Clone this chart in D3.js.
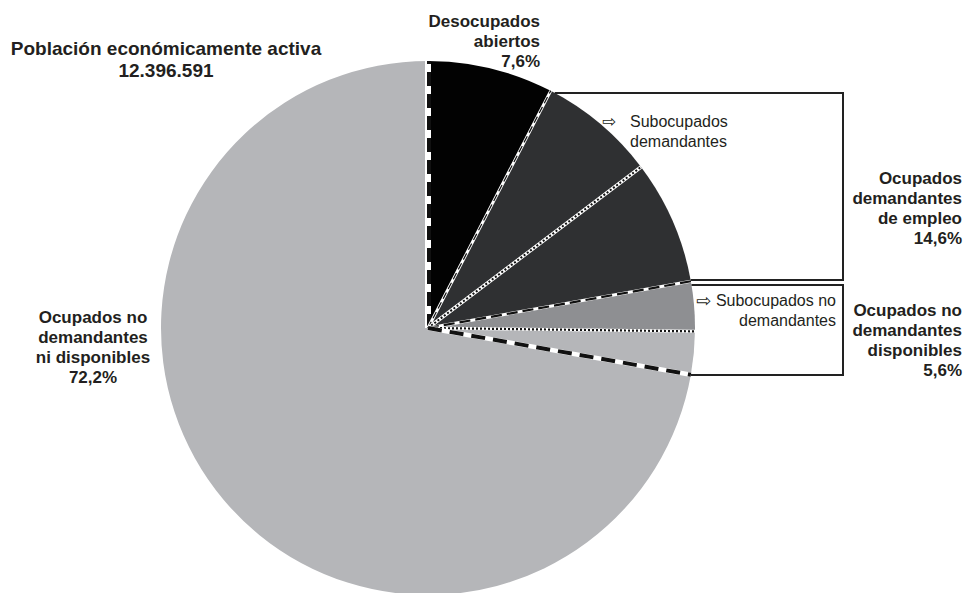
<!DOCTYPE html>
<html><head><meta charset="utf-8">
<script src="https://cdn.jsdelivr.net/npm/d3@7"></script>
<style>html,body{margin:0;padding:0;background:#fff;}svg{display:block;}</style>
</head><body>
<script>
// ---- data ----
const categories = ["Desocupados abiertos","Subocupados demandantes","Ocupados demandantes (resto)","Subocupados no demandantes","Ocupados no demandantes disponibles (resto)","Ocupados no demandantes ni disponibles"];
const values = [7.6, 7.1, 7.5, 3.0, 2.6, 72.2];
const titleLines = ["Población económicamente activa","12.396.591"];
const groupLabels = [
  ["Desocupados","abiertos","7,6%"],
  ["Ocupados","demandantes","de empleo","14,6%"],
  ["Ocupados no","demandantes","disponibles","5,6%"],
  ["Ocupados no","demandantes","ni disponibles","72,2%"]
];
const subLabels = [["Subocupados","demandantes"],["Subocupados no","demandantes"]];

// ---- styles ----
const fills = ["#020202","#2f3032","#2f3032","#8e8f92","#b5b6b9","#b5b6b9"];
const boundaryStyles = [ // at start angle of each slice
  {w:6, dw:4, dash:"14,8", off:-1},
  {w:3, dw:1.2, dash:"7,4", off:0},
  {w:3.5, dw:2, dash:"2,2", off:0},
  {w:3, dw:2.2, dash:"11,5", off:0},
  {w:3, dw:2.2, dash:"2,2", off:0},
  {w:4.5, dw:4, dash:"14,8", off:0}
];
const W = 965, H = 593, cx = 428, cy = 328, R = 267;
const font = "'Liberation Sans', Arial, Helvetica, sans-serif";
const ink = "#231f20";

const svg = d3.select("body").append("svg").attr("width", W).attr("height", H);
const g = svg.append("g").attr("transform", `translate(${cx},${cy})`);

const pie = d3.pie().sort(null).value(d => d)(values);
const arc = d3.arc().innerRadius(0).outerRadius(R);
g.selectAll("path.slice").data(pie).join("path")
  .attr("class","slice").attr("d", arc).attr("fill",(d,i)=>fills[i]);

// boundary lines
const pt = (a, r) => [r*Math.sin(a), -r*Math.cos(a)];
pie.forEach((d,i) => {
  const s = boundaryStyles[i];
  const [x,y] = pt(d.startAngle, R);
  g.append("line").attr("x1",0).attr("y1",0).attr("x2",x).attr("y2",y)
    .attr("stroke","#fff").attr("stroke-width",s.w);
  const nx = -Math.cos(d.startAngle)*s.off, ny = -Math.sin(d.startAngle)*s.off;
  g.append("line").attr("x1",nx).attr("y1",ny).attr("x2",x+nx).attr("y2",y+ny)
    .attr("stroke","#111").attr("stroke-width",s.dw).attr("stroke-dasharray",s.dash);
});

// boxes (group brackets), anchored to pie edge
const edgeX = y => cx + Math.sqrt(R*R - (y-cy)*(y-cy));
const boxes = [{top:93,bottom:280,right:843},{top:285,bottom:375,right:843}];
boxes.forEach(b => {
  svg.append("path")
    .attr("d", `M${edgeX(b.top)},${b.top}H${b.right}V${b.bottom}H${edgeX(b.bottom)}`)
    .attr("fill","none").attr("stroke","#222").attr("stroke-width",2);
});

function multiline(lines, x, y0, dy, anchor, size, weight){
  const t = svg.append("text").attr("font-family",font).attr("font-size",size)
    .attr("font-weight",weight).attr("fill",ink).attr("text-anchor",anchor);
  lines.forEach((l,i)=> t.append("tspan").attr("x",x).attr("y",y0+i*dy).text(l));
  return t;
}
multiline(titleLines, 166, 55, 22, "middle", 19, "bold");
multiline(groupLabels[0], 540, 27, 20, "end", 17, "bold");
multiline(groupLabels[1], 962, 184, 20, "end", 17, "bold");
multiline(groupLabels[2], 962, 316, 20, "end", 17, "bold");
multiline(groupLabels[3], 93, 323, 20, "middle", 17, "bold");

// sub labels with arrow
multiline(subLabels[0], 630, 127, 20, "start", 16, "normal");
svg.append("text").attr("x",602).attr("y",127).attr("font-family","'DejaVu Sans', sans-serif")
  .attr("font-size",17).attr("fill",ink).text("⇨");
multiline(subLabels[1], 836, 306, 20, "end", 16, "normal");
svg.append("text").attr("x",696).attr("y",307).attr("font-family","'DejaVu Sans', sans-serif")
  .attr("font-size",18).attr("fill",ink).text("⇨");
</script>
</body></html>
